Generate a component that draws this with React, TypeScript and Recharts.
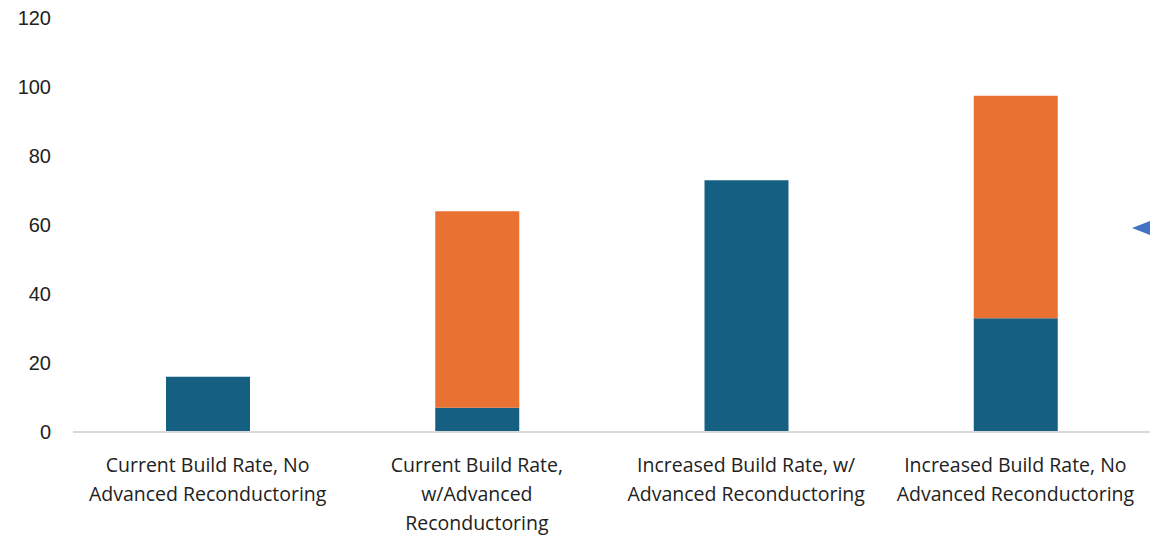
import { BarChart, Bar, XAxis, YAxis } from "recharts";

const categories = [
  "Current Build Rate, No\nAdvanced Reconductoring",
  "Current Build Rate,\nw/Advanced\nReconductoring",
  "Increased Build Rate, w/\nAdvanced Reconductoring",
  "Increased Build Rate, No\nAdvanced Reconductoring",
];
const baseValues = [16, 7, 73, 33];
const reconductorValues = [0, 57, 0, 64.5];
const yTicks = [0, 20, 40, 60, 80, 100, 120];

const data = categories.map((name, i) => ({
  name,
  base: baseValues[i],
  recon: reconductorValues[i],
}));

function CategoryTick(props: any) {
  const { x, y, payload } = props;
  const lines = String(payload.value).split("\n");
  return (
    <g transform={`translate(${x},${y})`}>
      {lines.map((line: string, i: number) => (
        <text
          key={i}
          x={0}
          y={32 + i * 29}
          textAnchor="middle"
          fill="#222"
          fontSize={19.5}
          fontFamily="'Open Sans', sans-serif"
        >
          {line}
        </text>
      ))}
    </g>
  );
}

export default function App() {
  return (
    <div style={{ position: "absolute", left: 0, top: 0, width: 1150, height: 536, background: "#fff" }}>
      <BarChart width={1150} height={536} data={data} margin={{ top: 18, right: 0, bottom: 0, left: 0 }}>
        <XAxis
          dataKey="name"
          height={104}
          interval={0}
          tick={<CategoryTick />}
          tickLine={false}
          axisLine={{ stroke: "#d9d9d9", strokeWidth: 2 }}
        />
        <YAxis
          width={73}
          domain={[0, 120]}
          ticks={yTicks}
          axisLine={false}
          tickLine={false}
          tick={{ fill: "#222", fontSize: 20, fontFamily: "'Liberation Sans', Arial, sans-serif", dx: -14 }}
        />
        <Bar dataKey="base" stackId="a" fill="#156082" barSize={84} isAnimationActive={false} />
        <Bar dataKey="recon" stackId="a" fill="#E97132" barSize={84} isAnimationActive={false} />
      </BarChart>
      <svg style={{ position: "absolute", left: 1128, top: 218 }} width={22} height={20}>
        <polygon points="4,10 22,3 22,17" fill="#4472C4" />
      </svg>
    </div>
  );
}
